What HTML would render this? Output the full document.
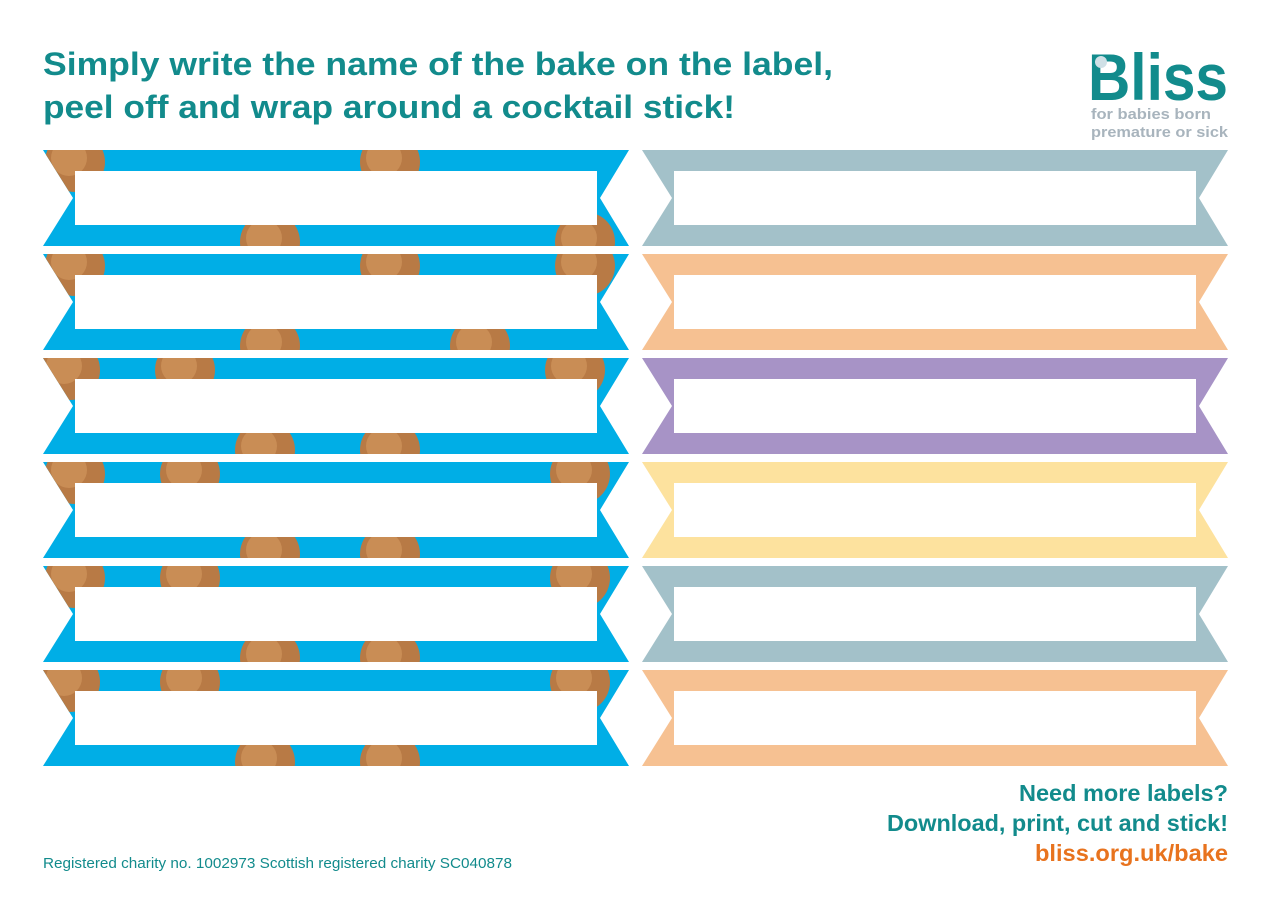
<!DOCTYPE html>
<html><head><meta charset="utf-8"><style>
body{margin:0;background:#fff;width:1276px;height:909px;overflow:hidden;font-family:"Liberation Sans",sans-serif}
</style></head><body>
<svg width="1276" height="909" xmlns="http://www.w3.org/2000/svg">
<defs>
<clipPath id="lc"><polygon id="lp" points="43,0 629,0 600,48 629,96 43,96 73,48"/></clipPath>
</defs>
<g fill="#128b8c" font-weight="bold" font-size="32">
<text x="43" y="75" textLength="790" lengthAdjust="spacingAndGlyphs">Simply write the name of the bake on the label,</text>
<text x="43" y="118" textLength="692" lengthAdjust="spacingAndGlyphs">peel off and wrap around a cocktail stick!</text>
</g>
<g>
<text x="1088" y="100" font-size="66" font-weight="bold" fill="#128b8c" textLength="140" lengthAdjust="spacingAndGlyphs">Bliss</text>
<circle cx="1101" cy="62" r="6" fill="#cfe0e6"/>
<text x="1091" y="119" font-size="15" font-weight="bold" fill="#a8b4bd" textLength="120" lengthAdjust="spacingAndGlyphs">for babies born</text>
<text x="1091" y="137" font-size="15" font-weight="bold" fill="#a8b4bd" textLength="137" lengthAdjust="spacingAndGlyphs">premature or sick</text>
</g>
<g id="labels"></g>
<g font-weight="bold" font-size="23" text-anchor="end">
<text x="1228" y="801" fill="#128b8c" textLength="209" lengthAdjust="spacingAndGlyphs">Need more labels?</text>
<text x="1228" y="831" fill="#128b8c" textLength="341" lengthAdjust="spacingAndGlyphs">Download, print, cut and stick!</text>
<text x="1228" y="861" fill="#e8731e" textLength="193" lengthAdjust="spacingAndGlyphs">bliss.org.uk/bake</text>
</g>
<text x="43" y="868" font-size="15" fill="#128b8c" textLength="469" lengthAdjust="spacingAndGlyphs">Registered charity no. 1002973 Scottish registered charity SC040878</text>
</svg>
<script>
const rows=[150,254,358,462,566,670];
const rightColors=['#a3c1c9','#f6c192','#a793c6','#fde29e','#a3c1c9','#f6c192'];
const cookieX=[[75,270,390,585],[75,270,390,480,585],[70,265,185,390,575],[75,270,190,390,580],[75,270,190,390,580],[70,265,190,390,580]];
const NS='http://www.w3.org/2000/svg';
const g=document.getElementById('labels');
function mk(t,a){const e=document.createElementNS(NS,t);for(const k in a)e.setAttribute(k,a[k]);return e;}
rows.forEach((y,i)=>{
  const L=mk('g',{transform:`translate(0,${y})`});
  
  
  const inner=mk('g',{'clip-path':'url(#lc)'});
  inner.appendChild(mk('rect',{x:43,y:0,width:586,height:96,fill:'#00aee6'}));
  cookieX[i].forEach((cx,j)=>{
    const cy=(j%2===0)?12:92;
    inner.appendChild(mk('circle',{cx:cx,cy:cy,r:30,fill:'#b87a45'}));
    inner.appendChild(mk('circle',{cx:cx-6,cy:cy-4,r:18,fill:'#c98d55'}));
  });
  L.appendChild(inner);
  const w=mk('rect',{x:75,y:21,width:522,height:54,fill:'#fff'});
  
  
  L.appendChild(w);
  g.appendChild(L);
  const R=mk('g',{transform:`translate(0,${y})`});
  
  
  R.appendChild(mk('polygon',{points:'642,0 1228,0 1199,48 1228,96 642,96 672,48',fill:rightColors[i]}));
  const w2=mk('rect',{x:674,y:21,width:522,height:54,fill:'#fff'});
  
  
  R.appendChild(w2);
  g.appendChild(R);
});
</script>
</body></html>
